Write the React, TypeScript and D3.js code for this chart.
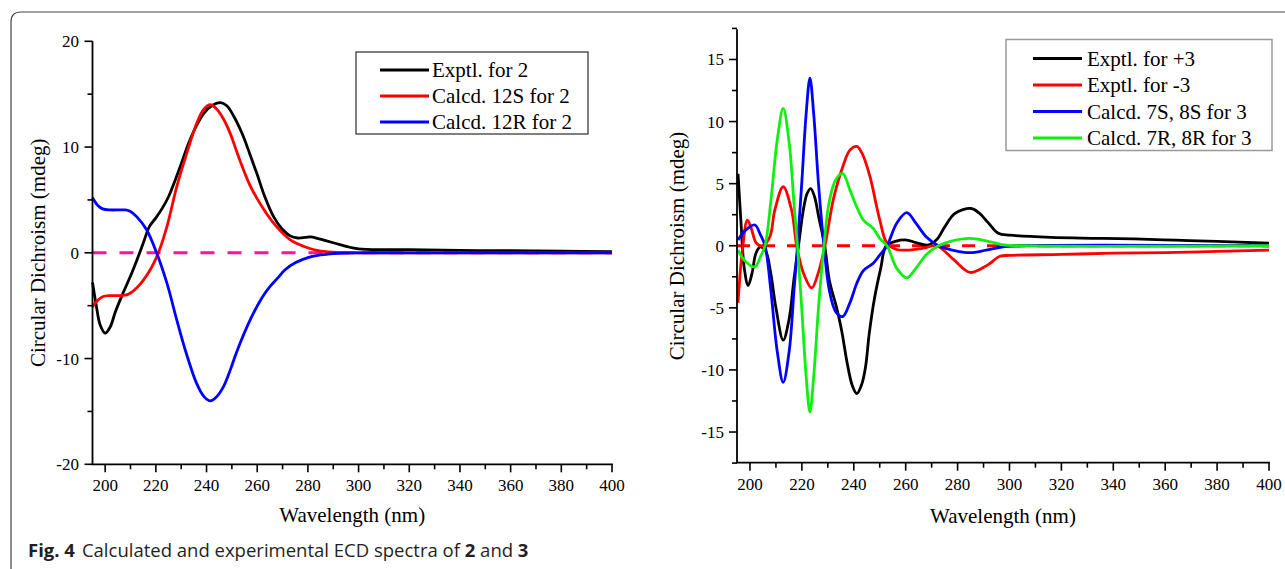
import React from 'react';
import * as d3 from 'd3';

// ---------- Left panel (compound 2) ----------
const leftXTicks = [200, 220, 240, 260, 280, 300, 320, 340, 360, 380, 400];
const leftXMinor = [210, 230, 250, 270, 290, 310, 330, 350, 370, 390];
const leftYTicks = [-20, -10, 0, 10, 20];
const leftYMinor = [-15, -5, 5, 15];

const exptl2Wl = [195, 196.5, 198, 200, 202, 204, 206.7, 210, 212.5, 215, 217.5, 220, 222.5, 225, 227.5, 230, 233, 236, 239, 242, 245.5, 248, 251, 254, 257, 260, 263, 266.5, 270, 273, 276, 279, 281, 284, 287, 290, 293, 296, 300, 310, 320, 340, 360, 380, 400];
const exptl2Cd = [-2.8, -5.0, -6.8, -7.6, -7.0, -5.6, -4.0, -2.2, -0.7, 0.9, 2.5, 3.3, 4.2, 5.3, 6.8, 8.4, 10.4, 12.0, 13.2, 13.9, 14.2, 13.9, 12.8, 11.3, 9.4, 7.4, 5.3, 3.4, 2.2, 1.6, 1.4, 1.45, 1.5, 1.35, 1.15, 0.95, 0.75, 0.55, 0.38, 0.3, 0.3, 0.22, 0.2, 0.15, 0.1];

const calc12SWl = [195, 197, 199, 202, 205, 208, 210, 212.5, 215, 217.8, 221, 224.4, 228.3, 232.3, 236.2, 239, 241.5, 244, 246.8, 249.5, 252, 257.3, 262.6, 267.9, 273.2, 278.5, 284, 290, 300, 320, 400];
const calc12SCd = [-5.1, -4.5, -4.15, -4.05, -4.05, -4.0, -3.8, -3.3, -2.6, -1.6, 0, 2.5, 6.3, 9.5, 12.3, 13.6, 14.0, 13.6, 12.6, 11.2, 9.5, 6.3, 4.1, 2.4, 1.2, 0.6, 0.2, 0.05, 0, 0, 0];

const calc12RWl = [195, 197, 199, 202, 208, 210, 212.5, 216.3, 220.3, 224.4, 228.2, 232, 236, 239, 241.5, 244, 246.8, 249.5, 252, 257.5, 262, 265, 268, 271, 275, 280, 285, 292, 300, 320, 400];
const calc12RCd = [5.2, 4.5, 4.15, 4.05, 4.05, 3.9, 3.4, 2.2, 0, -2.9, -6.3, -9.5, -12.3, -13.6, -14.0, -13.6, -12.6, -11.0, -9.3, -6.2, -4.2, -3.2, -2.4, -1.6, -0.95, -0.45, -0.2, -0.05, 0, 0, 0];

const leftLegend = ['Exptl. for 2', 'Calcd. 12S for 2', 'Calcd. 12R for 2'];

// ---------- Right panel (compound 3) ----------
const rightXTicks = [200, 220, 240, 260, 280, 300, 320, 340, 360, 380, 400];
const rightXMinor = [210, 230, 250, 270, 290, 310, 330, 350, 370, 390];
const rightYTicks = [-15, -10, -5, 0, 5, 10, 15];
const rightYMinor = [-17.5, -12.5, -7.5, -2.5, 2.5, 7.5, 12.5, 17.5];

const exptlPlus3Wl = [195.4, 196.5, 197.8, 199.3, 200.8, 202.3, 204, 206, 208, 210, 212.8, 215, 217, 218.7, 220.5, 222, 223.4, 224.8, 226.6, 228.8, 230.6, 233.4, 235.3, 237.5, 239.5, 241.2, 243, 244.5, 246, 248, 250.4, 252.5, 256, 260.4, 264, 268.5, 272, 275, 279, 285.2, 288.5, 291.6, 295.7, 300.2, 316, 332, 348, 364, 380, 400];
const exptlPlus3Cd = [5.8, 2.0, -1.8, -3.2, -2.2, -0.6, -0.1, -0.4, -2.2, -5.0, -7.6, -6.0, -2.6, 0, 2.8, 4.2, 4.6, 4.0, 2.2, 0, -2.8, -5.0, -6.8, -9.5, -11.3, -11.9, -11.2, -9.8, -7.0, -4.2, -1.8, 0, 0.35, 0.46, 0.25, 0.05, 0.5, 1.5, 2.6, 3.0, 2.6, 1.9, 1.0, 0.85, 0.67, 0.6, 0.55, 0.45, 0.35, 0.2];

const exptlMinus3Wl = [195.4, 197, 199, 200.5, 202.5, 205, 207.7, 209.6, 212.8, 216, 218, 220.6, 223.8, 226.3, 228.9, 232.2, 236, 238.5, 241.2, 243.5, 246.2, 250, 252.8, 256.5, 260.4, 266.7, 271.9, 278.4, 284.8, 291.2, 296.3, 300, 320, 340, 360, 380, 400];
const exptlMinus3Cd = [-4.6, -0.5, 2.07, 1.4, 0.2, 0, 0.75, 2.9, 4.75, 2.9, 0, -2.2, -3.4, -2.2, 0, 3.8, 6.5, 7.7, 8.0, 7.3, 5.6, 2.1, 0.2, -0.3, -0.35, -0.2, 0, -1.1, -2.15, -1.6, -0.85, -0.78, -0.7, -0.6, -0.55, -0.45, -0.35];

const calc7S8SWl = [195.4, 198, 201.9, 204, 205.8, 208, 210.5, 212.8, 215.1, 217, 218.3, 220, 221.6, 223.1, 224.6, 226.4, 228.5, 230.5, 233, 235.7, 238.5, 241.2, 243.7, 247.5, 250, 252.8, 256.5, 260.4, 264, 268, 272.6, 278, 284.8, 291, 297, 305, 400];
const calc7S8SCd = [0.46, 1.2, 1.67, 0.9, 0, -3.5, -8.5, -11.0, -8.5, -3.5, 0, 5.2, 10.5, 13.5, 10.5, 5.0, 0, -3.5, -5.3, -5.7, -4.6, -3.0, -2.0, -1.4, -0.75, 0, 1.8, 2.66, 1.8, 0.7, 0, -0.35, -0.56, -0.35, -0.1, 0, 0];

const calc7R8RWl = [195.4, 198, 201.9, 204, 205.8, 208, 210.5, 212.8, 215.1, 217, 218.3, 220, 221.6, 223.1, 224.6, 226.4, 228.5, 230.5, 233, 235.7, 238.5, 241.2, 243.7, 247.5, 250, 252.8, 256.5, 260.4, 264, 268, 272.6, 278, 284.8, 291, 297, 305, 400];
const calc7R8RCd = [-0.35, -1.2, -1.7, -0.9, 0, 3.5, 8.5, 11.06, 8.3, 3.3, 0, -5.2, -10.4, -13.4, -10.4, -5.0, 0, 3.5, 5.3, 5.83, 4.5, 3.1, 2.07, 1.4, 0.6, 0, -1.8, -2.58, -1.8, -0.7, 0, 0.4, 0.6, 0.4, 0.1, 0, 0];

const rightLegend = ['Exptl. for +3', 'Exptl. for -3', 'Calcd. 7S, 8S for 3', 'Calcd. 7R, 8R for 3'];

const captionBold = 'Fig. 4';
const captionText = 'Calculated and experimental ECD spectra of ';

const SERIF = "'Liberation Serif', 'Times New Roman', serif";

type Series = { wl: number[]; cd: number[]; color: string };

type PanelProps = {
  xRange: [number, number];
  yRange: [number, number]; // [bottom, top]
  yDomain: [number, number];
  xTicks: number[];
  xMinor: number[];
  yTicks: number[];
  yMinor: number[];
  series: Series[];
  dashColor: string;
  dashArray: string;
  legend: {
    x: number; y: number; w: number; h: number; stroke: string; strokeW: number;
    lineX0: number; lineX1: number; textX: number; rows: number[]; labels: string[];
  };
  xTickLabelY: number;
  yTickLabelX: number;
  xTitleY: number;
  yTitleX: number;
};

function Panel(p: PanelProps) {
  const x = d3.scaleLinear().domain([195, 400]).range(p.xRange);
  const xStart = p.xRange[0];
  const y = d3.scaleLinear().domain(p.yDomain).range(p.yRange);
  const line = d3
    .line<[number, number]>()
    .x((d) => x(d[0]))
    .y((d) => y(d[1]))
    .curve(d3.curveCatmullRom.alpha(0.5));
  const axisW = 1.8;
  const yBottom = p.yRange[0];
  const yTop = p.yRange[1];
  return (
    <g>
      <line x1={xStart} x2={p.xRange[1]} y1={y(0)} y2={y(0)} stroke={p.dashColor} strokeWidth={3} strokeDasharray={p.dashArray} />
      {p.series.map((s, i) => (
        <path key={i} d={line(s.wl.map((w, j) => [w, s.cd[j]] as [number, number])) || ''} fill="none" stroke={s.color} strokeWidth={2.8} strokeLinejoin="round" />
      ))}
      <line x1={xStart} x2={xStart} y1={yTop} y2={yBottom} stroke="#000" strokeWidth={axisW} />
      <line x1={xStart - 0.9} x2={p.xRange[1] + 0.9} y1={yBottom} y2={yBottom} stroke="#000" strokeWidth={axisW} />
      {p.xTicks.map((t) => (
        <g key={'xt' + t}>
          <line x1={x(t)} x2={x(t)} y1={yBottom} y2={yBottom + 8} stroke="#000" strokeWidth={1.6} />
          <text x={x(t)} y={p.xTickLabelY} textAnchor="middle" fontFamily={SERIF} fontSize={17}>{t}</text>
        </g>
      ))}
      {p.xMinor.map((t) => (
        <line key={'xm' + t} x1={x(t)} x2={x(t)} y1={yBottom} y2={yBottom + 5} stroke="#000" strokeWidth={1.6} />
      ))}
      {p.yTicks.map((t) => (
        <g key={'yt' + t}>
          <line x1={xStart - 8} x2={xStart} y1={y(t)} y2={y(t)} stroke="#000" strokeWidth={1.6} />
          <text x={p.yTickLabelX} y={y(t) + 6} textAnchor="end" fontFamily={SERIF} fontSize={17}>{t}</text>
        </g>
      ))}
      {p.yMinor.map((t) => (
        <line key={'ym' + t} x1={xStart - 5} x2={xStart} y1={y(t)} y2={y(t)} stroke="#000" strokeWidth={1.6} />
      ))}
      <text x={(p.xRange[0] + p.xRange[1]) / 2} y={p.xTitleY} textAnchor="middle" fontFamily={SERIF} fontSize={21}>Wavelength (nm)</text>
      <text transform={`translate(${p.yTitleX},${(yTop + yBottom) / 2}) rotate(-90)`} textAnchor="middle" fontFamily={SERIF} fontSize={21}>Circular Dichroism (mdeg)</text>
      <rect x={p.legend.x} y={p.legend.y} width={p.legend.w} height={p.legend.h} fill="#fff" stroke={p.legend.stroke} strokeWidth={p.legend.strokeW} />
      {p.legend.labels.map((lab, i) => (
        <g key={'lg' + i}>
          <line x1={p.legend.lineX0} x2={p.legend.lineX1} y1={p.legend.rows[i]} y2={p.legend.rows[i]} stroke={p.series[i].color} strokeWidth={3} />
          <text x={p.legend.textX} y={p.legend.rows[i] + 7} fontFamily={SERIF} fontSize={21}>{lab}</text>
        </g>
      ))}
    </g>
  );
}

export default function App() {
  const leftSeries: Series[] = [
    { wl: exptl2Wl, cd: exptl2Cd, color: '#000000' },
    { wl: calc12SWl, cd: calc12SCd, color: '#ff0000' },
    { wl: calc12RWl, cd: calc12RCd, color: '#0000ff' },
  ];
  const rightSeries: Series[] = [
    { wl: exptlPlus3Wl, cd: exptlPlus3Cd, color: '#000000' },
    { wl: exptlMinus3Wl, cd: exptlMinus3Cd, color: '#ff0000' },
    { wl: calc7S8SWl, cd: calc7S8SCd, color: '#0000ff' },
    { wl: calc7R8RWl, cd: calc7R8RCd, color: '#11ee11' },
  ];
  return (
    <svg width={1285} height={569} style={{ position: 'absolute', left: 0, top: 0, background: '#fff' }}>
      <rect x={0} y={0} width={1285} height={569} fill="#fff" />
      <path d="M 11 569 L 11 22 Q 11 12 21 12 L 1285 12" fill="none" stroke="#444" strokeWidth={1.2} />
      <Panel
        xRange={[92.5, 612]}
        yRange={[464.3, 41.3]}
        yDomain={[-20, 20]}
        xTicks={leftXTicks}
        xMinor={leftXMinor}
        yTicks={leftYTicks}
        yMinor={leftYMinor}
        series={leftSeries}
        dashColor="#ff1493"
        dashArray="14,13"
        legend={{ x: 356, y: 52, w: 232, h: 82, stroke: '#000', strokeW: 1, lineX0: 380, lineX1: 429, textX: 432, rows: [70, 96, 122], labels: leftLegend }}
        xTickLabelY={491}
        yTickLabelX={79}
        xTitleY={522}
        yTitleX={45}
      />
      <Panel
        xRange={[737, 1269]}
        yRange={[462.7, 29.3]}
        yDomain={[-17.47, 17.43]}
        xTicks={rightXTicks}
        xMinor={rightXMinor}
        yTicks={rightYTicks}
        yMinor={rightYMinor}
        series={rightSeries}
        dashColor="#ff0000"
        dashArray="13,12"
        legend={{ x: 1006, y: 39.5, w: 266, h: 111, stroke: '#999', strokeW: 1.5, lineX0: 1033, lineX1: 1082, textX: 1087, rows: [58.5, 85, 111.5, 138], labels: rightLegend }}
        xTickLabelY={490}
        yTickLabelX={724}
        xTitleY={523}
        yTitleX={684}
      />
      <text x={28} y={557} fontFamily="'Open Sans', 'Noto Sans', sans-serif" fontSize={18.5} fill="#231f20">
        <tspan fontWeight="bold">{captionBold}</tspan>
        <tspan dx={7}>{captionText}</tspan>
        <tspan fontWeight="bold">2</tspan>
        <tspan> and </tspan>
        <tspan fontWeight="bold">3</tspan>
      </text>
    </svg>
  );
}
